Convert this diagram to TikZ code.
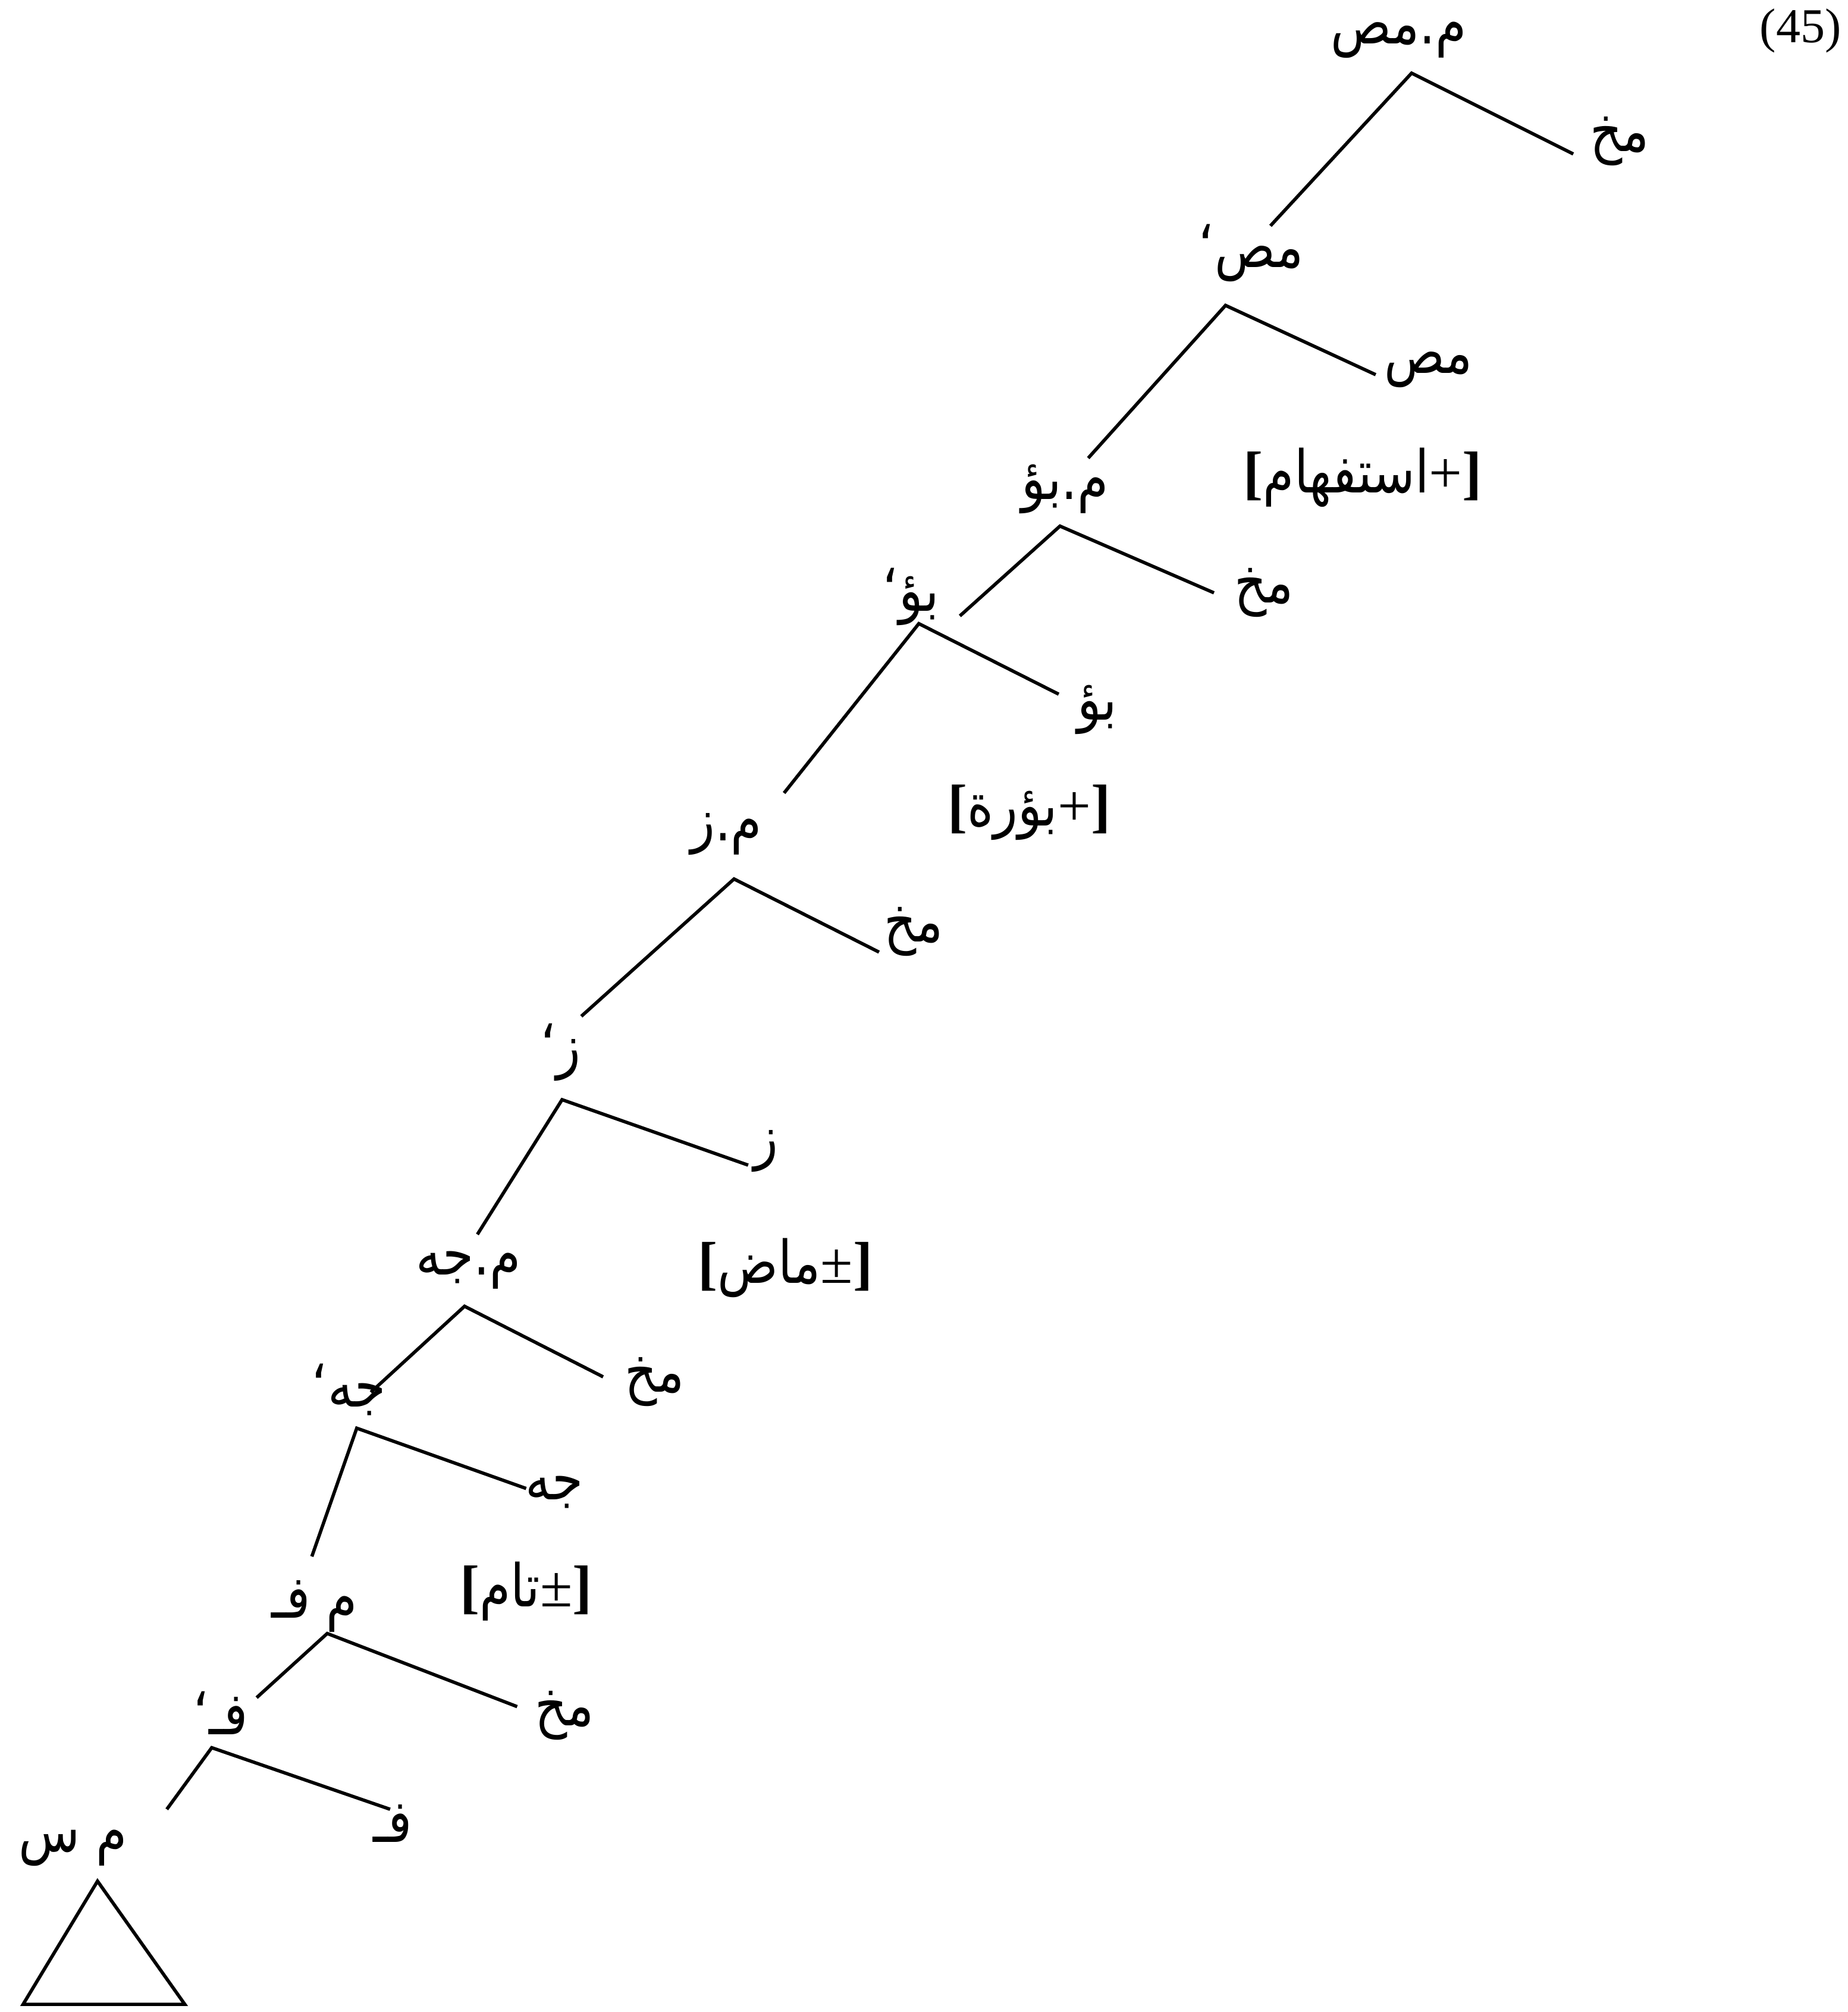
\documentclass[tikz,border=0pt]{standalone}
\usepackage{fontspec}
\setmainfont{Liberation Serif}
\newfontfamily\arabicfont[Script=Arabic, FakeStretch=0.85]{DejaVu Sans}
\TeXXeTstate=1
\usetikzlibrary{positioning}

\newcommand{\artxt}[1]{{\arabicfont\beginR #1\endR}}
\newcommand{\brk}[1]{\textbf{#1}}

\begin{document}
\begin{tikzpicture}[
  x=1pt, y=-1pt,
  cat/.style={inner sep=0pt, font=\fontsize{46}{52}\selectfont},
  feat/.style={inner sep=0pt, font=\fontsize{46}{52}\selectfont},
  branch/.style={line width=2.6pt}
]
\useasboundingbox (0,0) rectangle (1440,1568);

\node[inner sep=0pt, font=\fontsize{38}{44}\selectfont] (num) at (1403,24) {(45)};

\node[cat] (mmas) at (1090,31) {\artxt{م.مص}};
\coordinate (mmas-b) at (1100,57);
\node[cat] (mukh1) at (1262,110) {\artxt{مخ}};
\node[cat] (masbar) at (975,197) {\artxt{مص‘}};
\draw[branch] ([shift={(15,-21)}]masbar.center) -- (mmas-b) -- ([shift={(-36,10)}]mukh1.center);

\coordinate (masbar-b) at (955,238);
\node[cat] (mas) at (1113,288) {\artxt{مص}};
\node[feat] (istifham) at (1062,372) {\brk{[}\artxt{استفهام}+\brk{]}};
\node[cat] (mbu) at (830,381) {\artxt{م.بؤ}};
\draw[branch] ([shift={(18,-24)}]mbu.center) -- (masbar-b) -- ([shift={(-41,4)}]mas.center);

\coordinate (mbu-b) at (826,410);
\node[cat] (mukh2) at (985,462) {\artxt{مخ}};
\node[cat] (bubar) at (710,465) {\artxt{بؤ‘}};
\draw[branch] ([shift={(38,15)}]bubar.center) -- (mbu-b) -- ([shift={(-39,0)}]mukh2.center);

\coordinate (bubar-b) at (716,486);
\node[cat] (bu) at (855,553) {\artxt{بؤ}};
\node[feat] (buara) at (802,633) {\brk{[}\artxt{بؤرة}+\brk{]}};
\node[cat] (mz) at (566,650) {\artxt{م.ز}};
\draw[branch] ([shift={(45,-32)}]mz.center) -- (bubar-b) -- ([shift={(-30,-12)}]bu.center);

\coordinate (mz-b) at (572,685);
\node[cat] (mukh3) at (712,726) {\artxt{مخ}};
\node[cat] (zbar) at (437,820) {\artxt{ز‘}};
\draw[branch] ([shift={(16,-28)}]zbar.center) -- (mz-b) -- ([shift={(-27,16)}]mukh3.center);

\coordinate (zbar-b) at (438,857);
\node[cat] (z) at (597,897) {\artxt{ز}};
\node[feat] (madi) at (612,988) {\brk{[}\artxt{ماض}±\brk{]}};
\node[cat] (mjh) at (365,990) {\artxt{م.جه}};
\draw[branch] ([shift={(7,-28)}]mjh.center) -- (zbar-b) -- ([shift={(-14,11)}]z.center);

\coordinate (mjh-b) at (362,1018);
\node[cat] (mukh4) at (510,1077) {\artxt{مخ}};
\node[cat] (jhbar) at (272,1083) {\artxt{جه‘}};
\draw[branch] ([shift={(17,2)}]jhbar.center) -- (mjh-b) -- ([shift={(-40,-4)}]mukh4.center);

\coordinate (jhbar-b) at (278,1113);
\node[cat] (jh) at (432,1163) {\artxt{جه}};
\node[feat] (tam) at (410,1240) {\brk{[}\artxt{تام}±\brk{]}};
\node[cat] (mf) at (245,1252) {\artxt{م فـ}};
\draw[branch] ([shift={(-2,-39)}]mf.center) -- (jhbar-b) -- ([shift={(-22,-3)}]jh.center);

\coordinate (mf-b) at (255,1273);
\node[cat] (mukh5) at (440,1337) {\artxt{مخ}};
\node[cat] (fbar) at (172,1335) {\artxt{فـ‘}};
\draw[branch] ([shift={(28,-12)}]fbar.center) -- (mf-b) -- ([shift={(-37,-7)}]mukh5.center);

\coordinate (fbar-b) at (165,1362);
\node[cat] (f) at (306,1421) {\artxt{فـ}};
\node[cat] (ms) at (57,1440) {\artxt{م س}};
\draw[branch] ([shift={(73,-30)}]ms.center) -- (fbar-b) -- ([shift={(-2,-11)}]f.center);

\coordinate (tri) at (76,1466);
\draw[branch] (tri) -- (18,1562) -- (144,1562) -- cycle;

\end{tikzpicture}
\end{document}
